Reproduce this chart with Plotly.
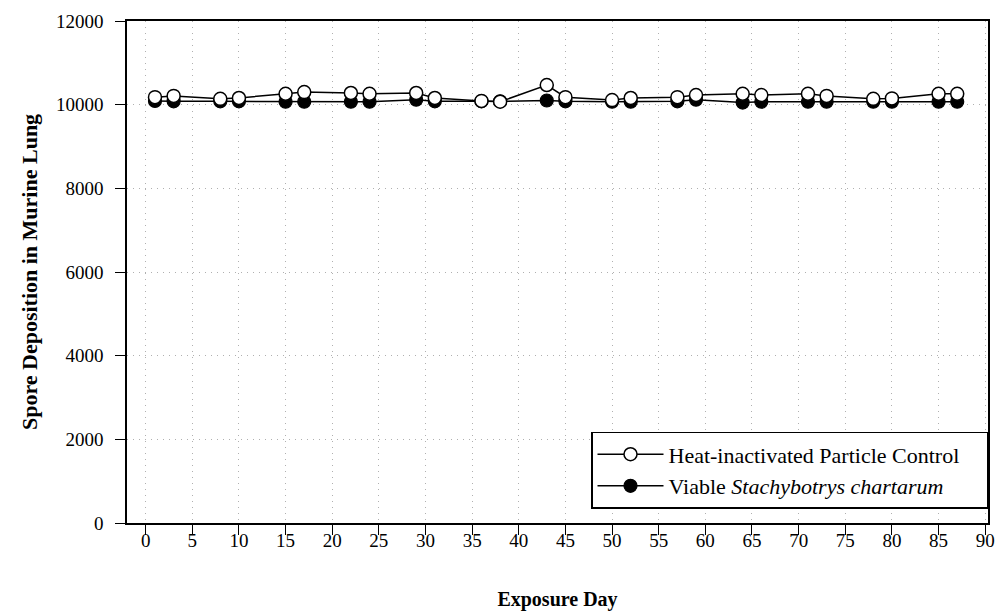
import plotly.graph_objects as go

days = [1, 3, 8, 10, 15, 17, 22, 24, 29, 31, 36, 38, 43, 45, 50, 52, 57, 59, 64, 66, 71, 73, 78, 80, 85, 87]
heat_inactivated = [10180, 10210, 10140, 10160, 10260, 10300, 10280, 10260, 10280, 10160, 10090, 10070, 10470, 10180,
                    10110, 10160, 10180, 10230, 10260, 10230, 10260, 10210, 10140, 10150, 10260, 10260]
viable = [10090, 10080, 10080, 10080, 10070, 10070, 10070, 10070, 10120, 10080, 10080, 10080, 10100, 10080,
          10070, 10070, 10080, 10120, 10050, 10070, 10070, 10070, 10070, 10070, 10070, 10070]
x_ticks = list(range(0, 91, 5))
y_ticks = [0, 2000, 4000, 6000, 8000, 10000, 12000]

font_family = "Liberation Serif"

fig = go.Figure()
fig.add_trace(go.Scatter(
    x=days, y=viable, mode="lines+markers",
    name="Viable <i>Stachybotrys chartarum</i>",
    line=dict(color="black", width=1.5),
    marker=dict(symbol="circle", size=13, color="black", line=dict(color="black", width=1.2)),
))
fig.add_trace(go.Scatter(
    x=days, y=heat_inactivated, mode="lines+markers",
    name="Heat-inactivated Particle Control&nbsp;&nbsp;&nbsp;&nbsp;",
    line=dict(color="black", width=1.5),
    marker=dict(symbol="circle", size=13, color="white", line=dict(color="black", width=1.5)),
))

fig.update_layout(
    width=997, height=611,
    margin=dict(l=127, r=9, t=21, b=88),
    paper_bgcolor="white", plot_bgcolor="white",
    font=dict(family=font_family, size=19, color="black"),
    legend=dict(
        x=1.0, xanchor="right", y=0.028, yanchor="bottom",
        bordercolor="black", borderwidth=1.5, bgcolor="white",
        traceorder="reversed", font=dict(size=22, family=font_family),
        itemwidth=66, tracegroupgap=0,
    ),
    showlegend=True,
)
fig.update_xaxes(
    range=[-2, 90.3], tickvals=x_ticks, ticktext=[str(v) for v in x_ticks],
    ticks="outside", ticklen=10, tickwidth=1.2, tickcolor="black",
    showline=True, linecolor="black", linewidth=1.5, mirror=True,
    showgrid=True, gridcolor="#b0b0b0", griddash="1px,5px", gridwidth=1,
    zeroline=False, automargin=False,
    tickfont=dict(size=19), ticklabelstandoff=-11,
    title=dict(text="<b>Exposure Day</b>", font=dict(size=20), standoff=43),
)
fig.update_yaxes(
    range=[0, 12000], tickvals=y_ticks, ticktext=[str(v) for v in y_ticks],
    ticks="outside", ticklen=10, tickwidth=1.2, tickcolor="black",
    showline=True, linecolor="black", linewidth=1.5, mirror=True,
    showgrid=True, gridcolor="#b0b0b0", griddash="1px,5px", gridwidth=1,
    zeroline=False, automargin=False,
    tickfont=dict(size=19), ticklabelstandoff=8,
    title=dict(text="<b>Spore Deposition in Murine Lung</b>", font=dict(size=22), standoff=12),
)

fig.write_html(
    "out.html",
    config={"displayModeBar": False},
    post_script="document.body.style.margin='0';document.body.style.overflow='hidden';",
)
